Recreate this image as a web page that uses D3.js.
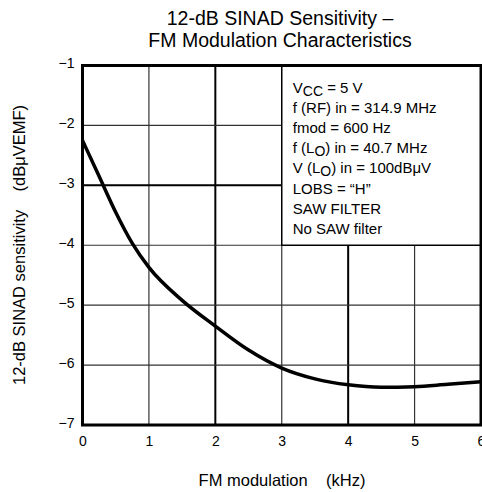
<!DOCTYPE html>
<html><head><meta charset="utf-8">
<script src="https://cdn.jsdelivr.net/npm/d3@7/dist/d3.min.js"></script>
<style>body{margin:0;background:#fff;} text{font-family:"Liberation Sans",Arial,sans-serif;fill:#000;}</style>
</head><body><svg id="c" width="482" height="492"></svg>
<script>
const xTicks = [0, 1, 2, 3, 4, 5, 6];
const yTicks = [-1, -2, -3, -4, -5, -6, -7];
const thickX = [2, 4];
const thickY = [-3];
const fmKHz = [0, 0.25, 0.5, 0.75, 1, 1.5, 2, 2.5, 3, 3.5, 4, 4.5, 5, 5.5, 6];
const sensitivity = [-2.25, -2.85, -3.45, -3.97, -4.37, -4.92, -5.35, -5.75, -6.05, -6.23, -6.33, -6.37, -6.36, -6.32, -6.28];
const titleLines = ["12-dB SINAD Sensitivity \u2013", "FM Modulation Characteristics"];
const xTitle = "FM modulation    (kHz)";
const yTitle = "12-dB SINAD sensitivity    (dB\u03bcVEMF)";
// legend lines: arrays of [text, isSubscript]
const legendLines = [
  [["V", 0], ["CC", 1], [" = 5 V", 0]],
  [["f (RF) in = 314.9 MHz", 0]],
  [["fmod = 600 Hz", 0]],
  [["f (L", 0], ["O", 1], [") in = 40.7 MHz", 0]],
  [["V (L", 0], ["O", 1], [") in = 100dB\u03bcV", 0]],
  [["LOBS = \u201cH\u201d", 0]],
  [["SAW FILTER", 0]],
  [["No SAW filter", 0]]
];

const svg = d3.select("#c");
const L = 82.5, R = 481, T = 65.5, B = 425;
const x = d3.scaleLinear().domain([0, 6]).range([L, R]);
const y = d3.scaleLinear().domain([-7, -1]).range([B, T]);
const fmt = v => (v < 0 ? "\u2212" + Math.abs(v) : String(v));

// grid
const g = svg.append("g");
xTicks.slice(1, -1).forEach(v => {
  const th = thickX.includes(v);
  g.append("line").attr("x1", x(v)).attr("x2", x(v)).attr("y1", T).attr("y2", B)
    .attr("stroke", th ? "#000" : "#333").attr("stroke-width", th ? 2 : 1.2);
});
yTicks.slice(1, -1).forEach(v => {
  const th = thickY.includes(v);
  g.append("line").attr("x1", L).attr("x2", R).attr("y1", y(v)).attr("y2", y(v))
    .attr("stroke", th ? "#000" : "#333").attr("stroke-width", th ? 2 : 1.2);
});

// legend box
const lx0 = x(3), ly1 = y(-4);
svg.append("rect").attr("x", lx0).attr("y", T).attr("width", R - lx0).attr("height", ly1 - T)
  .attr("fill", "#fff").attr("stroke", "#000").attr("stroke-width", 1.5);
legendLines.forEach((parts, i) => {
  const t = svg.append("text").attr("x", lx0 + 11).attr("y", 92.5 + i * 20.2).attr("font-size", 15);
  let sub = false;
  parts.forEach(([s, isSub]) => {
    const ts = t.append("tspan").text(s);
    if (isSub && !sub) { ts.attr("dy", 3).attr("font-size", 14); sub = true; }
    else if (!isSub && sub) { ts.attr("dy", -3); sub = false; }
  });
});

// curve
svg.append("path").datum(fmKHz.map((v, i) => [v, sensitivity[i]]))
  .attr("fill", "none").attr("stroke", "#000").attr("stroke-width", 3.5)
  .attr("d", d3.line().x(d => x(d[0])).y(d => y(d[1])).curve(d3.curveMonotoneX));

// frame
svg.append("rect").attr("x", L).attr("y", T).attr("width", R - L).attr("height", B - T)
  .attr("fill", "none").attr("stroke", "#000").attr("stroke-width", 3);

// axes tick labels
const xa = svg.append("g").attr("transform", `translate(0,${B})`)
  .call(d3.axisBottom(x).tickValues(xTicks).tickFormat(fmt).tickSize(0).tickPadding(11));
const ya = svg.append("g").attr("transform", `translate(${L},0)`)
  .call(d3.axisLeft(y).tickValues(yTicks).tickFormat(fmt).tickSize(0).tickPadding(8));
[xa, ya].forEach(a => {
  a.select(".domain").remove();
  a.selectAll("text").attr("font-size", 14).attr("font-family", "Liberation Sans, Arial, sans-serif");
});
ya.selectAll("text").attr("dy", "0.15em");

// titles
svg.append("text").attr("x", 280).attr("y", 25).attr("text-anchor", "middle").attr("font-size", 19.5).text(titleLines[0]);
svg.append("text").attr("x", 280).attr("y", 47).attr("text-anchor", "middle").attr("font-size", 19.5).text(titleLines[1]);
svg.append("text").attr("x", 282).attr("y", 486).attr("text-anchor", "middle").attr("font-size", 16.5)
  .style("white-space", "pre").text(xTitle);
svg.append("text").attr("transform", "translate(25,245) rotate(-90)").attr("text-anchor", "middle").attr("font-size", 16.5)
  .style("white-space", "pre").text(yTitle);
</script></body></html>
